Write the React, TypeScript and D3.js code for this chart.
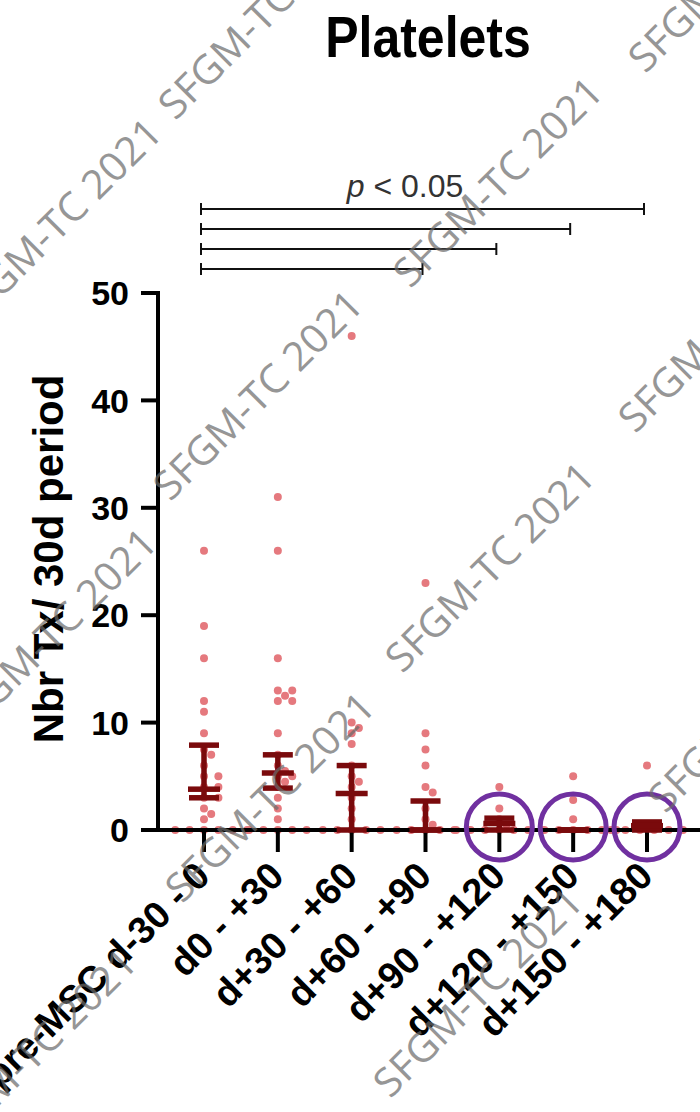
import React from "react";
import * as d3 from "d3";

// ---------- data ----------
const categories = [
  "pre-MSC d-30 - 0",
  "d0 - +30",
  "d+30 - +60",
  "d+60 - +90",
  "d+90 - +120",
  "d+120 - +150",
  "d+150 - +180",
];

const preMSC = [26, 19, 16, 12, 11, 9, 7.5, 7, 6, 5, 5, 4, 4, 3, 3, 2, 1.5, 1, 0, 0, 0, 0, 0, 0];
const d0_30 = [31, 26, 16, 13, 13, 12.5, 12, 12, 9, 7, 6, 5.5, 5, 5, 4.5, 4, 3, 2, 1, 0, 0, 0, 0, 0];
const d30_60 = [46, 10, 9.5, 9, 8, 6, 5, 4.5, 4, 3, 2, 1, 0, 0, 0, 0, 0];
const d60_90 = [23, 9, 7.5, 6, 4, 3.5, 2, 1, 0.5, 0, 0, 0, 0, 0, 0];
const d90_120 = [4, 2, 1, 0.5, 0, 0, 0, 0, 0, 0, 0];
const d120_150 = [5, 2.8, 1, 0, 0, 0, 0, 0, 0];
const d150_180 = [6, 0.5, 0, 0, 0, 0, 0, 0];
const seriesValues = [preMSC, d0_30, d30_60, d60_90, d90_120, d120_150, d150_180];

const centers = [3.8, 5.3, 3.4, 0, 0.6, 0, 0.4];
const lowers = [3.0, 3.9, 0, 0, 0, 0, 0];
const uppers = [7.9, 7.0, 6.0, 2.7, 1.1, 0, 0.75];
const highlighted = [false, false, false, false, true, true, true];

const yTicks = [0, 10, 20, 30, 40, 50];
const comparisons: [number, number][] = [
  [0, 6],
  [0, 5],
  [0, 4],
  [0, 3],
];
const sigText = "< 0.05";
const titleText = "Platelets";
const yLabelText = "Nbr Tx/ 30d period";
const watermarkText = "SFGM-TC 2021";
const watermarkCenters: [number, number][] = [
  [263, 14],
  [57, 223],
  [498, 182],
  [733, -33],
  [258, 395],
  [52, 633],
  [490, 567],
  [723, 327],
  [270, 797],
  [753, 707],
  [478, 992],
  [32, 1053],
];

// ---------- layout ----------
const W = 700;
const H = 1112;
const FONT = "'Liberation Sans', Arial, Helvetica, sans-serif";
const axisX = 158;

const y = d3.scaleLinear().domain([0, 50]).range([830, 293]);
const x = d3.scalePoint<string>().domain(categories).range([204, 647]);

type P = { x: number; y: number };
function swarm(values: number[], cx: number, r: number, step: number): P[] {
  const placed: P[] = [];
  const sorted = values.slice().sort((a, b) => b - a);
  for (const v of sorted) {
    const py = y(v);
    let k = 0;
    let px = cx;
    for (;;) {
      const off = k === 0 ? 0 : (k % 2 === 1 ? 1 : -1) * Math.ceil(k / 2) * step;
      px = cx + off;
      if (!placed.some((p) => (p.x - px) ** 2 + (p.y - py) ** 2 < (2 * r) ** 2)) break;
      k++;
    }
    placed.push({ x: px, y: py });
  }
  return placed;
}

export default function App() {
  const dotR = 4;
  const capHalf = 15;
  const barColor = "#7a0a0c";
  const dotColor = "#e5797e";
  return (
    <svg
      width={W}
      height={H}
      viewBox={`0 0 ${W} ${H}`}
      style={{ position: "absolute", left: 0, top: 0, background: "#fff" }}
      fontFamily={FONT}
    >
      <rect x={0} y={0} width={W} height={H} fill="#fff" />

      {/* title */}
      <text
        transform="translate(428,57) scale(1,1.15)"
        textAnchor="middle"
        fontSize={50}
        fontWeight="bold"
        fill="#000"
      >
        {titleText}
      </text>

      {/* significance bars */}
      <text x={405} y={197} textAnchor="middle" fontSize={32} fill="#333">
        <tspan fontStyle="italic">p</tspan> {sigText}
      </text>
      {comparisons.map(([a, b], i) => {
        const yy = 209 + i * 20;
        const x1 = x(categories[a])! - 3;
        const x2 = x(categories[b])! - 3;
        return (
          <g key={i} stroke="#111" strokeWidth={2}>
            <line x1={x1} x2={x2} y1={yy} y2={yy} />
            <line x1={x1} x2={x1} y1={yy - 6} y2={yy + 6} />
            <line x1={x2} x2={x2} y1={yy - 6} y2={yy + 6} />
          </g>
        );
      })}

      {/* points */}
      {seriesValues.map((vals, gi) =>
        swarm(vals, x(categories[gi])!, dotR, 7.2).map((p, j) => (
          <circle key={`${gi}-${j}`} cx={p.x} cy={p.y} r={dotR} fill={dotColor} />
        ))
      )}

      {/* axes */}
      <line x1={axisX} x2={axisX} y1={y(50) - 2} y2={y(0) + 2} stroke="#000" strokeWidth={4} />
      <line x1={axisX - 2} x2={700} y1={y(0)} y2={y(0)} stroke="#000" strokeWidth={4} />
      {yTicks.map((t) => (
        <g key={t}>
          <line x1={axisX - 17} x2={axisX} y1={y(t)} y2={y(t)} stroke="#000" strokeWidth={4} />
          <text
            x={axisX - 29}
            y={y(t)}
            dy="0.36em"
            textAnchor="end"
            fontSize={34}
            fontWeight="bold"
            fill="#000"
          >
            {t}
          </text>
        </g>
      ))}
      {categories.map((c) => (
        <line key={c} x1={x(c)!} x2={x(c)!} y1={y(0)} y2={y(0) + 22} stroke="#000" strokeWidth={4} />
      ))}

      {/* error bars */}
      {categories.map((c, i) => {
        const cx = x(c)!;
        return (
          <g key={c} stroke={barColor} strokeWidth={5.5}>
            <line x1={cx} x2={cx} y1={y(uppers[i])} y2={y(lowers[i])} />
            <line x1={cx - capHalf} x2={cx + capHalf} y1={y(uppers[i])} y2={y(uppers[i])} />
            <line x1={cx - capHalf} x2={cx + capHalf} y1={y(lowers[i])} y2={y(lowers[i])} />
            <line x1={cx - capHalf - 1} x2={cx + capHalf + 1} y1={y(centers[i])} y2={y(centers[i])} />
          </g>
        );
      })}

      {/* highlight circles */}
      {categories.map((c, i) =>
        highlighted[i] ? (
          <circle key={c} cx={x(c)!} cy={y(0) - 3} r={33} fill="none" stroke="#7030a0" strokeWidth={5} />
        ) : null
      )}

      {/* x labels */}
      {categories.map((c) => (
        <text
          key={c}
          transform={`translate(${x(c)! + 8},${878}) rotate(-45)`}
          textAnchor="end"
          fontSize={38}
          fontWeight="bold"
          fill="#000"
        >
          {c}
        </text>
      ))}

      {/* y label */}
      <text
        transform="translate(63,559) rotate(-90)"
        textAnchor="middle"
        fontSize={42}
        fontWeight="bold"
        fill="#000"
      >
        {yLabelText}
      </text>

      {/* watermark */}
      {watermarkCenters.map(([wx, wy], i) => (
        <text
          key={i}
          transform={`translate(${wx},${wy}) rotate(-45)`}
          textAnchor="middle"
          dy="0.35em"
          fontSize={40}
          fontFamily="'Open Sans', 'Noto Sans', sans-serif"
          fill="#6a6a6a"
          opacity={0.7}
          textLength={276}
          lengthAdjust="spacingAndGlyphs"
        >
          {watermarkText}
        </text>
      ))}
    </svg>
  );
}
